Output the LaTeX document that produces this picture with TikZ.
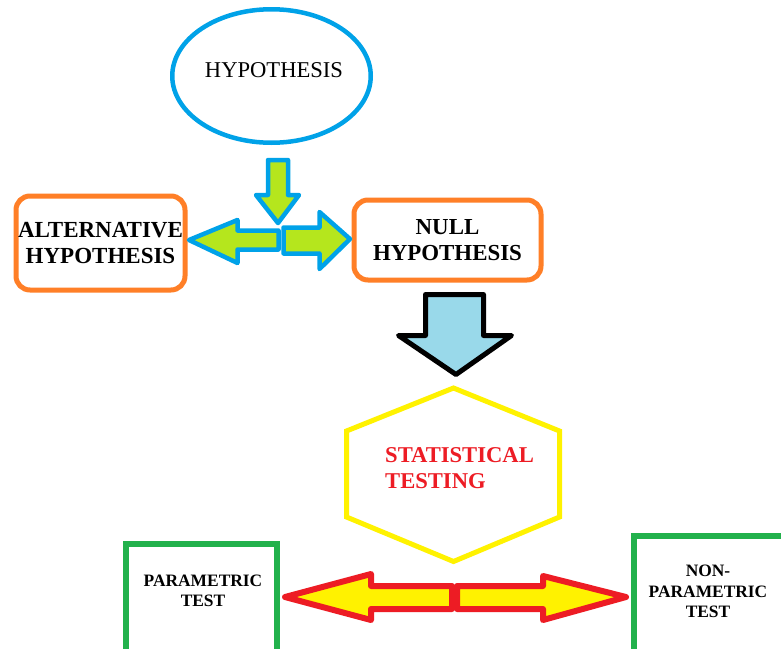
\documentclass[tikz,border=0pt]{standalone}
\usepackage{fontspec}
\setmainfont{Liberation Serif}
\usetikzlibrary{shapes.geometric}
\definecolor{pblue}{RGB}{0,162,232}
\definecolor{plime}{RGB}{181,230,29}
\definecolor{porange}{RGB}{255,127,39}
\definecolor{pturq}{RGB}{153,217,234}
\definecolor{pyellow}{RGB}{255,242,0}
\definecolor{pred}{RGB}{237,28,36}
\definecolor{pgreen}{RGB}{34,177,76}
\tikzset{
  orangebox/.style={draw=porange, line width=5pt, rounded corners=14pt, inner sep=0pt, align=center,
    font=\fontsize{23}{26.5}\selectfont\bfseries},
  greenbox/.style={draw=pgreen, line width=6pt, inner sep=0pt},
  smalltext/.style={inner sep=0pt, align=center, font=\fontsize{17.4}{20.5}\selectfont\bfseries},
  limearrow/.style={draw=pblue, fill=plime, line width=4.5pt, line join=round},
  redarrow/.style={draw=pred, fill=pyellow, line width=6pt, line join=round},
}
\begin{document}
\begin{tikzpicture}[x=1pt,y=-1pt]
\path[use as bounding box] (0,0) rectangle (781,648);
\fill[white] (0,0) rectangle (781,648);
\clip (0,0) rectangle (781,648);

% hypothesis ellipse
\node[ellipse, draw=pblue, line width=4.5pt, minimum width=198.5pt, minimum height=133.5pt, inner sep=0pt] (hyp) at (271.5,76) {};
\node[anchor=base, inner sep=0pt, font=\fontsize{22.6}{27}\selectfont] (hyptext) at (274,77) {HYPOTHESIS};

% orange boxes
\node[orangebox, minimum width=169pt, minimum height=94pt] (alt) at (100.5,243) {ALTERNATIVE\\HYPOTHESIS};
\node[orangebox, minimum width=187pt, minimum height=80pt, font=\fontsize{22.9}{25.5}\selectfont\bfseries] (null) at (447.5,240) {NULL\\HYPOTHESIS};

% lime arrows
\draw[limearrow] (278.5,230.5) -- (237.5,230.5) -- (237.5,220) -- (189,240) -- (237.5,263) -- (237.5,249.5) -- (278.5,249.5) -- cycle;
\draw[limearrow] (283.5,227.5) -- (319.5,227.5) -- (319.5,212) -- (350,239) -- (319.5,269) -- (319.5,253.5) -- (283.5,253.5) -- cycle;
\draw[limearrow] (268,160) -- (288,160) -- (288,195) -- (299,195) -- (278,223) -- (256,195) -- (268,195) -- cycle;

% black arrow
\draw[fill=pturq, line width=5pt, line join=round] (425.5,294.5) -- (483.5,294.5) -- (483.5,335.5) -- (511.5,335.5) -- (456,374.5) -- (398.5,335.5) -- (425.5,335.5) -- cycle;

% hexagon
\coordinate (hT) at (453.5,388);
\coordinate (hB) at (453.5,561.5);
\draw[draw=pyellow, line width=5pt] (hT) -- (559.5,431) -- (559.5,517) -- (hB) -- (346.5,517) -- (346.5,431) -- cycle;
\node[anchor=west, inner sep=0pt, align=left, text=pred, font=\fontsize{22.6}{26}\selectfont\bfseries] (stat) at (385,468.5) {STATISTICAL\\TESTING};

% green boxes
\draw[greenbox] (126,700) -- (126,544) -- (277,544) -- (277,700);
\node[smalltext] (param) at (203,591) {PARAMETRIC\\TEST};
\draw[greenbox] (634,700) -- (634,536) -- (820,536);
\node[smalltext] (nonparam) at (708,591.5) {NON-\\PARAMETRIC\\TEST};

% red arrows
\draw[redarrow] (452,586) -- (371,586) -- (371,574) -- (285,597) -- (371,620) -- (371,609) -- (452,609) -- cycle;
\draw[redarrow] (457,586) -- (543,586) -- (543,576) -- (626,597) -- (543,620) -- (543,609) -- (457,609) -- cycle;
\end{tikzpicture}
\end{document}
